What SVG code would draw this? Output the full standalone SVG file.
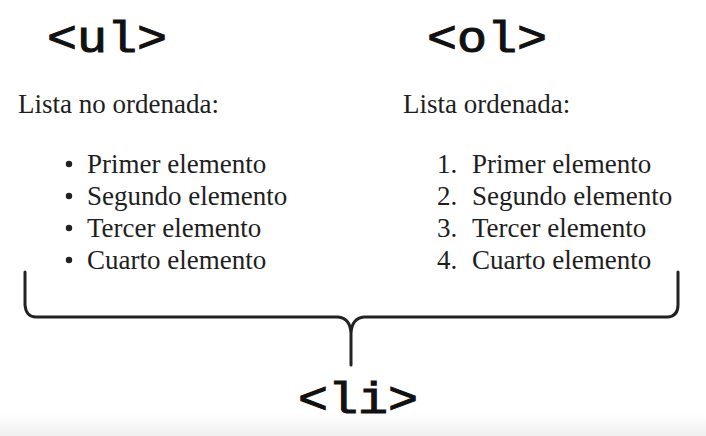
<svg xmlns="http://www.w3.org/2000/svg" width="706" height="436" viewBox="0 0 706 436">
<defs>
<linearGradient id="bg" x1="0" y1="0" x2="0" y2="1">
<stop offset="0" stop-color="#ffffff"/>
<stop offset="1" stop-color="#efefef"/>
</linearGradient>
<style>
.tag{font-family:'Liberation Mono','Courier New',Courier,monospace;font-weight:normal;font-size:50px;fill:#111;stroke:#111;stroke-width:1.2}
.txt{font-family:'Liberation Serif','Times New Roman',Times,'DejaVu Serif',serif;font-size:27px;fill:#1e1e1e}
.brace{fill:none;stroke:#222;stroke-width:3;stroke-linecap:round;stroke-linejoin:round}
</style>
</defs>
<rect width="706" height="436" fill="#fff"/>
<rect x="0" y="414" width="706" height="22" fill="url(#bg)"/>
<g id="ul">
<text class="tag" transform="translate(47 52) scale(1 0.88)">&lt;ul&gt;</text>
<text class="txt" x="18" y="113">Lista no ordenada:</text>
<circle cx="69" cy="164" r="3.2" fill="#222"/>
<circle cx="69" cy="196" r="3.2" fill="#222"/>
<circle cx="69" cy="228" r="3.2" fill="#222"/>
<circle cx="69" cy="260" r="3.2" fill="#222"/>
<text class="txt" x="87" y="173">Primer elemento</text>
<text class="txt" x="87" y="205">Segundo elemento</text>
<text class="txt" x="87" y="237">Tercer elemento</text>
<text class="txt" x="87" y="269">Cuarto elemento</text>
</g>
<g id="ol">
<text class="tag" transform="translate(427 52) scale(1 0.88)">&lt;ol&gt;</text>
<text class="txt" x="403" y="113">Lista ordenada:</text>
<text class="txt" x="437" y="173">1.</text>
<text class="txt" x="437" y="205">2.</text>
<text class="txt" x="437" y="237">3.</text>
<text class="txt" x="437" y="269">4.</text>
<text class="txt" x="472" y="173">Primer elemento</text>
<text class="txt" x="472" y="205">Segundo elemento</text>
<text class="txt" x="472" y="237">Tercer elemento</text>
<text class="txt" x="472" y="269">Cuarto elemento</text>
</g>
<g id="connectors">
<path class="brace" d="M25 272 L25 305 Q26 317 36 317 L338 317 Q350 318 351 333 L351 365 M351 333 Q352 318 364 317 L668 317 Q678 316 678 305 L678 272"/>
</g>
<g id="li">
<text class="tag" transform="translate(298 413) scale(1 0.88)">&lt;li&gt;</text>
</g>
</svg>
